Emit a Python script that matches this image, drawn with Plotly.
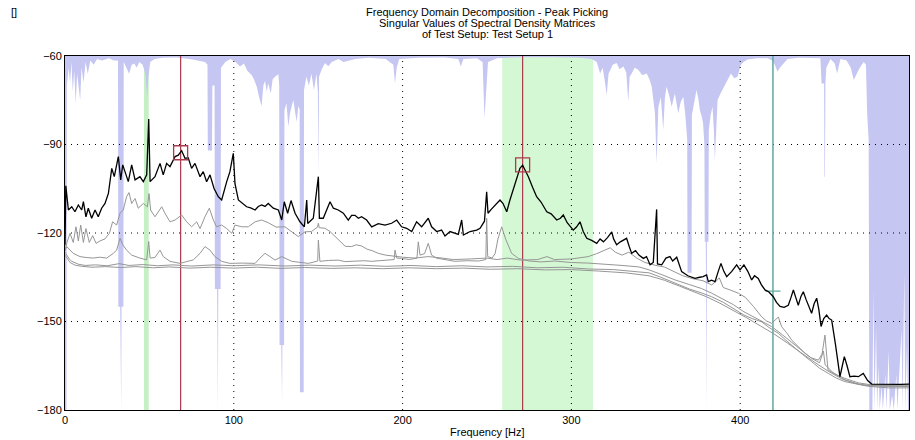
import plotly.graph_objects as go

# ---- axis setup -------------------------------------------------------------
X_RANGE = [0, 500]
Y_RANGE = [-180, -60]
X_TICKS = [0, 100, 200, 300, 400, 500]
Y_TICKS = [-180, -150, -120, -90, -60]

TITLE_LINES = [
    "Frequency Domain Decomposition - Peak Picking",
    "Singular Values of Spectral Density Matrices",
    "of Test Setup: Test Setup 1",
]
X_TITLE = "Frequency [Hz]"
Y_TITLE = "[]"

# ---- first singular value (Hz, dB) -----------------------------------------
SV1 = [
    (0, -124), (0.5, -104), (2.0, -112.2), (4.0, -111.1), (5.9, -112.8), (7.9, -110.5),
    (9.9, -112.2), (10.9, -109.4), (12.4, -114.5), (13.8, -111.6), (15.8, -115),
    (17.8, -112.2), (19.7, -114.5), (21.7, -111.6), (23.7, -110), (25.7, -106.6),
    (27.7, -98.1), (29.2, -100.9), (31.6, -94.1), (33.0, -102), (34.2, -96.9),
    (35.5, -99.2), (37.5, -102.6), (39.5, -96.9), (41.5, -102), (44.4, -100.9),
    (46.4, -102.6), (48.4, -100.3), (49.6, -81.4), (50.4, -102.6), (53.3, -100.9),
    (56.3, -96.4), (58.2, -100.3), (60.2, -96.4), (62.2, -97.5), (65.2, -94.1),
    (67.1, -93.6), (69.1, -92.1), (71.1, -94.7), (73.0, -94.5), (75.0, -98.1),
    (77.0, -96.4), (80.0, -100.9), (81.9, -99.2), (83.9, -102.6), (85.9, -100.3),
    (88.3, -104.9), (90.8, -107.7), (92.8, -108.8), (95.8, -102.6), (97.7, -99.2),
    (99.7, -93), (100.7, -103.3), (102.7, -108.8), (105, -110), (107.6, -111.1),
    (110, -111.5), (112.6, -112.2), (114.5, -111), (116.5, -110.5), (118.5, -111),
    (120.4, -110), (123.4, -111.6), (126.4, -112.2), (128.4, -115.6), (129.9, -109.4),
    (131.9, -113.3), (133.9, -109), (136.3, -113.3), (139.2, -116.2), (141.8, -117.9),
    (143.2, -108.8), (143.8, -116.8), (147.1, -115), (150.1, -100.9), (150.7, -115),
    (153.0, -115), (155.0, -112.2), (157.0, -109.4), (159.0, -111.6), (161.9, -112.2),
    (164.9, -113.3), (167.8, -115.6), (169.8, -114), (171.8, -114), (173.8, -115),
    (175.7, -114.5), (178.7, -115.6), (181.7, -117.9), (185.6, -116.8), (189.6, -117.3),
    (193.5, -116.7), (196.5, -115.6), (199.4, -117.9), (202.4, -118.4), (205.4, -119.5),
    (208.3, -116.2), (211.3, -117.9), (215.2, -115), (217.2, -117.9), (220.2, -119.5),
    (223.1, -119), (225.1, -121), (228.1, -119.5), (231.0, -120), (233.0, -120.5),
    (235.0, -115.6), (236.0, -120.7), (240.0, -119.5), (243.9, -119), (245.9, -118.4),
    (248.5, -116), (249.8, -106), (250.6, -113.3), (252.5, -112), (255.0, -110.5),
    (257.7, -108.8), (259.5, -110), (261.7, -112.8), (263.5, -109), (265.6, -105.4),
    (267.5, -101.5), (269.5, -98.1), (271.1, -97), (272.5, -98.5), (274.5, -100.9),
    (277.0, -104.5), (279.4, -107.7), (282.0, -109.5), (285.4, -112.8), (288.0, -113.5),
    (291.3, -115.6), (293.5, -115), (295.2, -113.9), (297.5, -116.5), (301.1, -119),
    (303.0, -118), (305.1, -116.2), (307.0, -119.5), (309.1, -121.8), (312.0, -122.5),
    (315.0, -123.5), (317.0, -122), (319.0, -123), (321.5, -121.5), (323.9, -119.6),
    (325.0, -122), (326.8, -124), (329.0, -123), (332.7, -121.8), (334.2, -124.5),
    (335.7, -126.9), (338.0, -126), (340.0, -127.5), (342.6, -128.6), (344.5, -128),
    (346.6, -130.8), (348.5, -130), (350.5, -112), (351.0, -130.5), (353.5, -130.8),
    (356.0, -128.5), (358.4, -128), (360.0, -129.5), (362.4, -128.2), (365.3, -133.1),
    (369.0, -134.5), (373.2, -135.4), (376.0, -135), (378.0, -134.8), (380.1, -134.2),
    (381.1, -136.5), (383.0, -136), (385.1, -136.5), (387.0, -133), (388.6, -130.3),
    (390.3, -133), (392.0, -134.8), (395.0, -133), (397.9, -130.8), (399.9, -132.5),
    (402.2, -130.8), (404.5, -133), (406.8, -135.9), (408.5, -134.5), (410.7, -135.4),
    (412.5, -137.5), (414.7, -139.3), (417.0, -140), (419.6, -141.6), (421.5, -143.5),
    (423.6, -144.9), (426.0, -145.2), (428.5, -144.5), (430.0, -142), (431.5, -139.3),
    (433.0, -142), (434.4, -144.5), (436.0, -141.5), (437.4, -139.9), (439.0, -142.5),
    (440.3, -144.5), (442.3, -147.2), (443.8, -144), (445.3, -142.1), (446.6, -146),
    (447.9, -151.7), (449.5, -149), (451.2, -147.8), (452.7, -149), (454.2, -149.5),
    (456.5, -158), (459.1, -168.7), (460.5, -165), (461.7, -161.9), (463.3, -165),
    (465.0, -168.7), (467.5, -168.5), (470.0, -168.7), (472.9, -167.6), (475.5, -170),
    (477.9, -171.2), (485, -171.3), (490, -171.2), (495, -171.3), (500, -171.2),
]

# ---- second singular value --------------------------------------------------
SV2 = [
    (0, -126), (1.0, -123.5), (3.0, -120.1), (4.9, -123.2), (6.5, -117.9), (7.9, -122.7),
    (9.3, -117.3), (10.9, -123.2), (12.4, -118.5), (14.4, -123.2), (16.4, -120.9),
    (18.4, -123.5), (20.7, -122.7), (23.7, -122), (26.3, -120.1), (28.2, -116.2),
    (30.6, -117.3), (32.6, -113.3), (34.5, -112.2), (36.5, -107.7), (37.9, -106.3),
    (39.5, -110), (41.5, -108.3), (43.4, -111.6), (46.4, -110), (48.8, -111.1),
    (49.8, -106.6), (50.7, -112.2), (53.3, -114.5), (55.9, -112.2), (57.3, -111.1),
    (59.2, -113.3), (62.2, -116.2), (65.2, -115.6), (68.1, -114.5), (69.1, -113.9),
    (72.1, -116.2), (75.0, -117.9), (78.0, -116.2), (80.0, -118.5), (82.9, -114.5),
    (85.5, -111.6), (87.9, -115.6), (89.8, -117.9), (92.8, -117.3), (95.8, -118.5),
    (98.8, -120.1), (100.7, -117.3), (104.7, -117.9), (108.6, -117.9), (112.6, -116.2),
    (116.5, -115.6), (120.4, -116.5), (125.0, -118), (130.3, -117.9), (135.0, -120),
    (138.2, -121.2), (142.2, -119.6), (146.0, -119.5), (149.6, -118), (150.1, -116.7),
    (150.6, -118.2), (154.0, -118.4), (157.0, -119.5), (160.0, -121.2), (163.0, -123),
    (166.0, -124.5), (169.8, -124.6), (172.5, -124), (175.7, -124.4), (179.0, -125.5),
    (182.0, -126), (185.6, -126.9), (190.0, -127.5), (195.5, -128), (200.0, -128.2),
    (207.4, -128.5), (215.2, -128), (222.0, -128.4), (230.0, -129), (240.0, -128.8),
    (250.0, -128.5), (256.0, -129), (262.0, -128.5), (270.0, -129.2), (280.0, -129),
    (285.5, -128), (290.0, -129), (300.0, -128.8), (305.0, -128.3), (310.0, -128),
    (315.0, -127), (320.0, -125.8), (323.0, -125), (326.0, -126.5), (330.0, -127.5),
    (334.0, -126.5), (339.0, -128.6), (343.6, -130), (350.0, -131), (355.0, -131.5),
    (361.5, -133.2), (366.0, -134.5), (372.0, -135.5), (378.0, -136.2), (383.1, -137.6),
    (385.5, -136.5), (387.6, -135.2), (390.0, -138.5), (394.0, -139.3), (398.9, -140.4),
    (403.0, -141.8), (408.0, -145), (412.7, -148.4), (415.5, -149.8), (418.6, -150.6),
    (420.5, -149.5), (422.6, -148.5), (424.6, -151.8), (427.5, -153.8), (430.5, -156.3),
    (434.5, -158.5), (438.4, -160.8), (442.0, -162.3), (446.3, -163.1), (448.5, -161),
    (450.2, -154.6), (451.0, -160), (452.0, -166.4), (456.0, -167.8), (462.1, -169.3),
    (470.0, -170.8), (477.9, -171.5), (490, -171.8), (500, -171.8),
]

# ---- third singular value ---------------------------------------------------
SV3 = [
    (0, -126), (1.0, -124.6), (4.9, -126.9), (8.9, -128), (12.5, -128.3), (16.8, -128.5),
    (20.5, -128.2), (24.7, -128.5), (28.6, -126.9), (30.6, -125.8), (32.6, -121.8),
    (34.2, -124), (36.5, -125.8), (39.5, -127.5), (44.4, -128.5), (48.4, -129.1),
    (49.6, -122.9), (50.4, -128.5), (53.3, -128.3), (56.3, -125.8), (58.2, -128),
    (62.2, -129.6), (68.1, -130.3), (72.0, -129.8), (76.0, -129.1), (80.0, -126.9),
    (82.9, -124.6), (85.9, -125.8), (88.8, -128), (92.8, -129.6), (97.7, -130.3),
    (105.0, -130.2), (112.6, -130.3), (115.5, -128.5), (118.5, -126.9), (121.5, -128),
    (124.4, -129.2), (128.4, -128), (134.3, -129.6), (144.2, -130.3), (149.7, -129.5),
    (150.1, -122.4), (151.0, -129.6), (156.0, -129.3), (161.9, -129.2), (166.0, -129.7),
    (171.8, -129.6), (177.0, -129.4), (181.7, -129.6), (188.0, -129.3), (195.0, -129),
    (195.5, -125.8), (196.5, -128.5), (199.4, -128.6), (204.0, -129), (208.5, -128.5),
    (209.3, -123), (210.3, -127.5), (213.0, -127), (215.2, -123.5), (217.2, -127.5),
    (220.0, -128.5), (225.1, -129), (231.0, -129.6), (238.0, -129.4), (245.0, -129.5),
    (249.3, -129), (249.8, -115), (250.4, -128), (253.0, -128.5), (254.8, -127),
    (256.5, -122), (258.7, -117.9), (261.0, -122), (264.6, -126.9), (268.6, -128.6),
    (275.0, -129.5), (282.0, -129.8), (290.0, -129.5), (300.0, -130), (310.0, -130.2),
    (320.0, -130.5), (330.0, -131), (340.0, -131.5), (346.0, -132.5), (353.0, -134),
    (361.4, -135.9), (370.0, -137.5), (377.0, -138.8), (383.1, -140.4), (390.0, -142.5),
    (396.0, -144.3), (402.2, -146.7), (410.0, -149), (418.6, -151.7), (425.0, -154.5),
    (432.5, -158), (438.0, -160.5), (442.3, -162.5), (447.0, -164), (449.3, -160),
    (450.3, -164.7), (455.0, -167.3), (462.0, -169.8), (470.0, -171.2), (477.0, -171.8),
    (490, -172), (500, -172),
]

# ---- fourth singular value --------------------------------------------------
SV4 = [
    (0, -126.5), (1.0, -127.5), (2.5, -128.8), (4.0, -129.6), (6.0, -130.2), (8.0, -130.6),
    (12.0, -131), (18.0, -130.8), (25.0, -131.1), (32.0, -130.4), (38.0, -131),
    (46.0, -130.7), (55.0, -131.1), (64.0, -130.8), (75.0, -131.2), (88.0, -130.8),
    (100.0, -131.1), (115.0, -130.8), (130.0, -131.2), (145.0, -130.9), (160.0, -131.2),
    (175.0, -130.9), (190.0, -131.3), (205.0, -131), (220.0, -131.4), (235.0, -131.1),
    (250.0, -131.5), (265.0, -131.3), (280.0, -131.8), (295.0, -131.6), (310.0, -132.2),
    (325.0, -132.4), (340.0, -133.2), (346.0, -133.5), (353.0, -135), (361.4, -137),
    (370.0, -139), (377.0, -140.3), (383.1, -141.6), (390.0, -143.5), (396.0, -145.5),
    (402.2, -147.8), (407.0, -149), (412.7, -150.1), (417.0, -152), (422.6, -154),
    (427.0, -156.3), (432.5, -159.1), (437.0, -161.2), (442.3, -163.6), (447.0, -165.8),
    (452.2, -167.6), (457.0, -169.2), (462.1, -170.4), (467.0, -171), (472.0, -171.5),
    (485.0, -171.9), (500, -172),
]

# ---- fifth singular value ---------------------------------------------------
SV5 = [
    (0, -127.5), (1.0, -128.5), (3.0, -130), (6.0, -130.9), (10.0, -131.3), (16.0, -131.6),
    (24.0, -131.4), (33.0, -131.7), (42.0, -131.4), (52.0, -131.8), (62.0, -131.5),
    (74.0, -131.9), (86.0, -131.6), (100.0, -131.9), (114.0, -131.6), (128.0, -132),
    (142.0, -131.7), (158.0, -132), (172.0, -131.8), (188.0, -132.1), (204.0, -131.8),
    (220.0, -132.1), (236.0, -131.9), (252.0, -132.3), (268.0, -132.1), (284.0, -132.5),
    (300.0, -132.4), (316.0, -132.9), (332.0, -133.5), (346.0, -134.5), (355.0, -136),
    (364.0, -138), (372.0, -139.8), (380.0, -141.6), (388.0, -143.8), (396.0, -146.2),
    (404.0, -148.8), (412.0, -151.5), (420.0, -154.2), (428.0, -157.3), (436.0, -160.6),
    (444.0, -163.8), (452.0, -166.8), (460.0, -169.4), (468.0, -171), (476.0, -172),
    (488.0, -172.5), (500, -172.5),
]

# ---- modal indicator area hanging from the top (Hz, lower edge in dB) --------
INDICATOR = [
    (0, -180), (0.9, -180), (1.1, -70), (2.2, -64), (3.0, -69), (3.8, -62), (4.6, -72),
    (5.5, -65), (6.3, -76), (7.2, -66), (8.2, -71), (9.0, -75), (9.8, -64), (11.0, -69),
    (12.2, -62), (13.5, -66), (15.0, -61.5), (17.0, -63), (19.0, -61), (22.0, -61.5),
    (26.0, -60.8), (29.0, -61.5), (31.4, -61.5), (31.6, -145), (32.7, -145), (32.9, -180),
    (33.3, -180), (33.5, -145), (34.6, -145), (34.8, -62), (36.5, -64), (38.0, -66),
    (39.5, -63), (41.0, -62.5), (42.5, -64), (44.0, -62), (46.0, -63), (47.6, -66),
    (48.6, -74), (49.4, -67), (50.5, -62), (53.0, -61), (58.0, -60.6), (66.0, -60.5),
    (74.0, -61), (80.0, -61.5), (83.0, -62), (84.4, -63), (84.6, -92), (87.1, -92),
    (87.3, -70), (88.6, -70), (88.8, -139), (90.1, -139), (90.3, -180), (90.6, -180),
    (90.8, -139), (92.2, -139), (92.4, -64), (95.0, -62), (98.0, -61), (101.0, -62),
    (103.7, -63.6), (106.0, -62.5), (108.0, -65), (110.6, -66.4), (112.0, -68),
    (113.6, -70.4), (115.0, -74), (116.5, -77), (117.5, -70), (118.5, -68.5), (119.5, -72),
    (120.4, -69.3), (121.9, -72.7), (123.0, -68), (124.4, -67), (126.4, -66.2),
    (126.9, -70), (127.1, -158), (128.1, -158), (128.3, -177), (128.6, -177), (128.8, -158),
    (129.8, -158), (130.0, -78.3), (131.2, -76), (132.3, -84), (133.3, -79.4), (134.3, -77),
    (135.3, -74.9), (136.3, -79), (137.3, -82.3), (138.2, -77), (139.0, -78), (139.2, -174),
    (141.4, -174), (141.6, -71.5), (143.0, -67), (144.5, -70), (146.0, -66), (147.5, -71.5),
    (149.0, -66), (149.8, -72), (150.0, -101), (150.3, -101), (150.5, -67), (152.0, -64.7),
    (154.0, -62.4), (156.0, -63.5), (158.0, -62), (162.0, -61), (165.0, -62), (168.0, -61.5),
    (172.0, -61), (180.0, -60.6), (190.0, -61), (194.5, -63), (195.5, -69.3), (196.5, -64),
    (198.0, -61), (210.0, -60.6), (225.0, -60.5), (233.0, -61), (234.5, -63.6), (236.0, -61),
    (244.0, -60.8), (247.4, -62), (248.5, -81.1), (249.5, -72), (250.6, -62), (256.0, -60.8),
    (270.0, -60.4), (290.0, -60.4), (305.0, -60.6), (312.0, -61), (315.0, -62),
    (317.0, -65.9), (318.5, -64), (320.0, -69.3), (320.9, -73.2), (322.0, -66),
    (322.9, -64.7), (324.5, -63), (326.8, -62.4), (328.5, -64.5), (330.8, -63.6),
    (332.5, -65.5), (333.7, -75.5), (334.5, -67), (335.7, -65.9), (337.5, -64),
    (339.6, -64.7), (342.0, -66.5), (344.6, -65.9), (346.3, -68), (347.6, -70.4),
    (349.5, -79.4), (350.5, -96.4), (351.5, -77.2), (353.0, -74), (354.4, -85.1),
    (355.4, -74), (356.4, -70.4), (358.0, -73.5), (359.4, -77.2), (361.3, -72.7),
    (363.3, -79.4), (364.8, -75.5), (366.3, -73.8), (367.5, -80), (368.6, -88.5),
    (368.8, -133.5), (371.2, -133.5), (371.4, -80), (372.8, -75), (374.1, -71.5),
    (375.2, -74.5), (376.1, -78.3), (377.2, -80.5), (378.0, -82.8), (378.8, -90),
    (379.0, -123), (379.6, -123), (379.8, -180), (380.1, -180), (380.3, -123), (381.2, -123),
    (381.4, -85), (382.5, -80), (383.6, -77.2), (384.4, -85), (385.0, -95.3), (385.7, -84),
    (386.6, -74.9), (388.5, -72.5), (390.5, -70.4), (392.5, -68), (394.5, -65.9),
    (396.5, -67.5), (398.4, -67), (400.4, -63), (402.0, -62), (404.3, -61.2), (410.0, -60.8),
    (416.2, -60.8), (419.0, -61.5), (420.5, -63), (422.1, -65.3), (423.5, -64), (425.0, -63),
    (428.0, -61), (435.0, -60.6), (447.5, -60.8), (448.2, -69.3), (449.7, -69.3),
    (449.9, -100.9), (450.2, -100.9), (450.5, -69.3), (451.0, -64), (453.5, -61),
    (456.0, -62.5), (457.4, -65.9), (458.5, -63), (459.4, -61), (463.0, -61.5),
    (465.5, -64), (467.3, -68.1), (468.8, -66), (470.2, -64.7), (472.0, -63), (473.2, -62),
    (474.5, -63), (475.2, -79.4), (476.1, -88.5), (476.5, -180), (478.3, -180),
    (478.9, -139.3), (479.5, -180), (480.5, -152), (481.1, -180), (482.0, -165),
    (482.6, -180), (483.8, -172), (484.5, -180), (486.0, -168), (486.6, -180), (488.0, -160),
    (488.6, -180), (490.0, -175), (491.0, -180), (492.5, -168), (493.1, -180),
    (495.6, -152.9), (496.2, -180), (497.2, -133.7), (497.8, -180), (498.8, -158),
    (499.4, -180), (500, -180),
]

# ---- picked peaks, selection bands and cursor --------------------------------
PEAK_HZ = [68.5, 271.1]
PEAK_DB = [-92.8, -96.9]
BANDS = [(46.8, 49.6), (259.0, 312.8)]
CURSOR_HZ = 419.4
CURSOR_DB = -139.7
CURSOR_HALF_WIDTH = 4.5

# ---- colours ----------------------------------------------------------------
C_INDICATOR = "rgb(198,198,242)"
C_BAND = ["rgb(196,240,196)", "rgb(212,248,212)"]
C_PEAK = "rgb(172,58,78)"
C_CURSOR = "rgb(92,170,160)"
C_SV1 = "black"
C_SVN = "rgb(150,150,150)"
FONT = "Liberation Sans, Arial, sans-serif"


def split(pairs):
    return [p[0] for p in pairs], [p[1] for p in pairs]


fig = go.Figure()

# lavender indicator area: filled between the top of the axis and its lower edge
ind_x, ind_y = split(INDICATOR)
fig.add_trace(go.Scatter(x=ind_x, y=[Y_RANGE[1]] * len(ind_x), mode="lines",
                         line=dict(width=0), hoverinfo="skip", showlegend=False))
fig.add_trace(go.Scatter(x=ind_x, y=ind_y, mode="lines", fill="tonexty",
                         fillcolor=C_INDICATOR, line=dict(width=0),
                         hoverinfo="skip", showlegend=False))

# dotted grid drawn over the indicator area
gx, gy = [], []
for v in X_TICKS[1:-1]:
    gx += [v, v, None]
    gy += [Y_RANGE[0], Y_RANGE[1], None]
for v in Y_TICKS[1:-1]:
    gx += [X_RANGE[0], X_RANGE[1], None]
    gy += [v, v, None]
fig.add_trace(go.Scatter(x=gx, y=gy, mode="lines",
                         line=dict(color="black", width=1, dash="1px,5px"),
                         hoverinfo="skip", showlegend=False))

# peak lines
px, py = [], []
for f in PEAK_HZ:
    px += [f, f, None]
    py += [Y_RANGE[0], Y_RANGE[1], None]
fig.add_trace(go.Scatter(x=px, y=py, mode="lines", line=dict(color=C_PEAK, width=1.2),
                         hoverinfo="skip", showlegend=False))

# cursor line and its level tick
fig.add_trace(go.Scatter(x=[CURSOR_HZ, CURSOR_HZ], y=Y_RANGE, mode="lines",
                         line=dict(color=C_CURSOR, width=1.5),
                         hoverinfo="skip", showlegend=False))
fig.add_trace(go.Scatter(x=[CURSOR_HZ - CURSOR_HALF_WIDTH, CURSOR_HZ + CURSOR_HALF_WIDTH],
                         y=[CURSOR_DB, CURSOR_DB], mode="lines",
                         line=dict(color=C_CURSOR, width=1.2),
                         hoverinfo="skip", showlegend=False))

# singular value curves, lowest first
for series in (SV5, SV4, SV3, SV2):
    sx, sy = split(series)
    fig.add_trace(go.Scatter(x=sx, y=sy, mode="lines", line=dict(color=C_SVN, width=1),
                             hoverinfo="skip", showlegend=False))
sx, sy = split(SV1)
fig.add_trace(go.Scatter(x=sx, y=sy, mode="lines", line=dict(color=C_SV1, width=1.3),
                         showlegend=False))

# peak markers
fig.add_trace(go.Scatter(x=PEAK_HZ, y=PEAK_DB, mode="markers",
                         marker=dict(symbol="square-open", size=14, color=C_PEAK,
                                     line=dict(width=1.3, color=C_PEAK)),
                         showlegend=False))

# selection bands behind everything
for (lo, hi), col in zip(BANDS, C_BAND):
    fig.add_shape(type="rect", xref="x", yref="y", x0=lo, x1=hi,
                  y0=Y_RANGE[0], y1=Y_RANGE[1], fillcolor=col, line=dict(width=0),
                  layer="below")

# titles
title_y = [1.123, 1.092, 1.061]
for text, yy in zip(TITLE_LINES, title_y):
    fig.add_annotation(text=text, x=0.5, y=yy, xref="paper", yref="paper",
                       xanchor="center", yanchor="middle", showarrow=False,
                       font=dict(family=FONT, size=11, color="black"))
fig.add_annotation(text=X_TITLE, x=0.5, y=-0.062, xref="paper", yref="paper",
                   xanchor="center", yanchor="middle", showarrow=False,
                   font=dict(family=FONT, size=11, color="black"))
fig.add_annotation(text=Y_TITLE, x=-0.066, y=1.123, xref="paper", yref="paper",
                   xanchor="left", yanchor="middle", showarrow=False,
                   font=dict(family=FONT, size=11, color="black"))

axis_common = dict(showgrid=False, zeroline=False, showline=True, mirror=True,
                   linecolor="black", linewidth=1, ticks="",
                   tickfont=dict(family=FONT, size=11, color="black"))
fig.update_xaxes(range=X_RANGE, tickvals=X_TICKS, ticklen=0, **axis_common)
fig.update_yaxes(range=Y_RANGE, tickvals=Y_TICKS, ticklen=0, **axis_common)

fig.update_layout(
    width=915, height=440,
    margin=dict(l=65, r=6, t=56, b=30),
    plot_bgcolor="white", paper_bgcolor="white",
    font=dict(family=FONT, size=11, color="black"),
    showlegend=False,
)

fig.write_html("out.html")
